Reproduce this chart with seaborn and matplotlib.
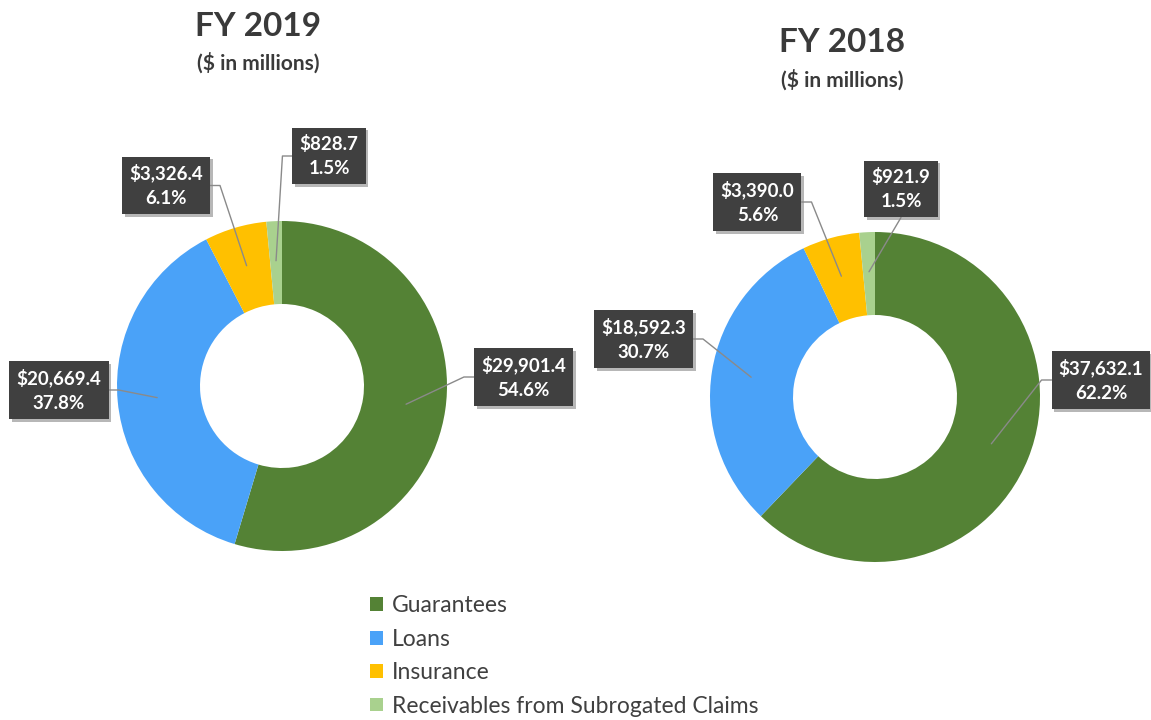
import matplotlib
matplotlib.use("Agg")
import numpy as np
import pandas as pd
import seaborn as sns
import matplotlib.pyplot as plt
from matplotlib.patches import Patch
from matplotlib import patheffects as pe

# ---------------- data ----------------
categories = ["Guarantees", "Loans", "Insurance", "Receivables from Subrogated Claims"]
fy2019_values = [29901.4, 20669.4, 3326.4, 828.7]
fy2018_values = [37632.1, 18592.3, 3390.0, 921.9]
chart_titles = ["FY 2019", "FY 2018"]
subtitle = "($ in millions)"
colors = ["#548235", "#4AA2F8", "#FFC000", "#A9D18E"]

# ---------------- layout (pixels from top-left) ----------------
W, H = 1151, 720
donut_centers = [(282, 386), (875, 397)]
R_OUT, R_W = 165, 83
title_xy = [(258, 26, 63), (842, 43, 80)]
label_boxes = [
    [(523.5, 377, "left"), (59, 390, "right"), (166, 185.5, "right"), (329, 156, "left")],
    [(1101, 380, "left"), (643.5, 339, "right"), (757.5, 202, "right"), (901, 189, "bottom")],
]

sns.set_theme(style="white")
plt.rcParams["font.family"] = ["Lato", "DejaVu Sans"]
palette = sns.color_palette(colors)

df = pd.DataFrame({"category": categories, "FY 2019": fy2019_values, "FY 2018": fy2018_values})

fig = plt.figure(figsize=(W / 100, H / 100), dpi=100)
ax = fig.add_axes([0, 0, 1, 1])
ax.axis("off")

def Y(y):
    return H - y

text_col = "#404040"
label_texts = []
for i, year in enumerate(chart_titles):
    vals = df[year].to_numpy()
    cx, cy = donut_centers[i]
    ax.pie(vals, colors=palette, startangle=90, counterclock=False,
           radius=R_OUT, center=(cx, Y(cy)), frame=True,
           wedgeprops=dict(width=R_W, linewidth=0))
    tx, ty1, ty2 = title_xy[i]
    ax.text(tx, Y(ty1), year, ha="center", va="center", fontsize=24,
            fontweight="bold", color="#3a3a3a")
    ax.text(tx, Y(ty2), subtitle, ha="center", va="center", fontsize=15,
            fontweight="bold", color="#3a3a3a")
    fr = vals / vals.sum()
    cum = np.concatenate([[0], np.cumsum(fr)])
    mids = 90 - (cum[:-1] + fr / 2) * 360
    for j in range(len(vals)):
        bx, by, side = label_boxes[i][j]
        t = ax.text(bx, Y(by), f"${vals[j]:,.1f}\n{fr[j]*100:.1f}%", ha="center",
                    va="center", fontsize=13.5, fontweight="bold", color="white",
                    linespacing=1.55, zorder=10,
                    bbox=dict(boxstyle="square,pad=0.38", fc="#404040", ec="none"))
        t.get_bbox_patch().set_path_effects([
            pe.SimplePatchShadow(offset=(2, -2), shadow_rgbFace="#888888", alpha=0.6),
            pe.Normal()])
        a = np.deg2rad(mids[j])
        anchor = (cx + 0.76 * R_OUT * np.cos(a), Y(cy) + 0.76 * R_OUT * np.sin(a))
        label_texts.append((t, anchor, side))

ax.set_xlim(0, W)
ax.set_ylim(0, H)
ax.set_aspect("auto")

fig.canvas.draw()
renderer = fig.canvas.get_renderer()
for t, anchor, side in label_texts:
    bb = t.get_bbox_patch().get_window_extent(renderer)
    cxb, cyb = (bb.x0 + bb.x1) / 2, (bb.y0 + bb.y1) / 2
    if side == "left":
        xs = [anchor[0], bb.x0 - 10, bb.x0]
        ys = [anchor[1], cyb, cyb]
    elif side == "right":
        xs = [anchor[0], bb.x1 + 10, bb.x1]
        ys = [anchor[1], cyb, cyb]
    else:
        xs = [anchor[0], cxb]
        ys = [anchor[1], bb.y0]
    ax.plot(xs, ys, color="#8a8a8a", lw=1.0, zorder=5)

handles = [Patch(facecolor=c, edgecolor="none") for c in palette]
leg = fig.legend(handles, categories, loc="upper left",
                 bbox_to_anchor=(370 / W, 1 - 595.5 / H), frameon=False,
                 fontsize=16.5, handlelength=0.55, handleheight=0.55,
                 handletextpad=0.4, labelspacing=0.54, borderpad=0, borderaxespad=0)
for txt in leg.get_texts():
    txt.set_color(text_col)

fig.savefig("out.png", dpi=100)
